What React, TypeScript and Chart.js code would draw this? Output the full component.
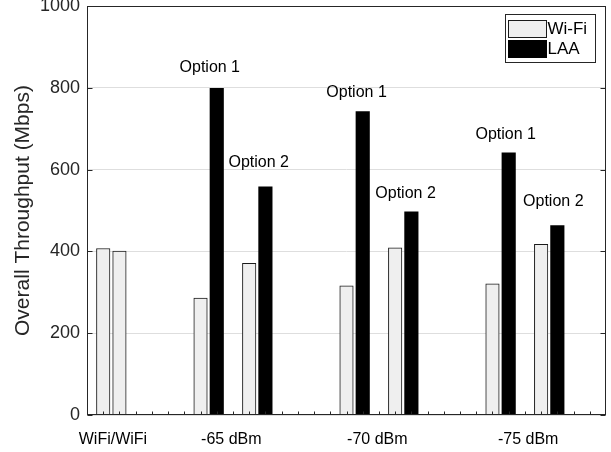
import React, { useEffect, useRef } from 'react';
import { Chart, registerables } from 'chart.js';

Chart.register(...registerables);

// ---- data ----
const wifiX = [1, 2, 7, 10, 16, 19, 25, 28];
const wifiValues = [407, 401, 286, 371, 316, 409, 321, 417];
const laaX = [8, 11, 17, 20, 26, 29];
const laaValues = [799, 558, 742, 497, 641, 463];

const categoryLabels = ['WiFi/WiFi', '-65 dBm', '-70 dBm', '-75 dBm'];
const categoryPositions = [1.6, 8.9, 17.9, 27.2];

const optionLabels = ['Option 1', 'Option 2', 'Option 1', 'Option 2', 'Option 1', 'Option 2'];
const optionX = [7.57, 10.59, 16.62, 19.64, 25.82, 28.75];
const optionY = [849, 617, 789, 541, 685, 522];

const yTickValues = [0, 200, 400, 600, 800, 1000];
const xMin = 0;
const xMax = 32;
const yMin = 0;
const yMax = 1000;

const yTitle = 'Overall Throughput (Mbps)';
const seriesNames = ['Wi-Fi', 'LAA'];

const AXIS_COLOR = '#262626';
const FONT = '"Liberation Sans", Arial, Helvetica, sans-serif';

const overlayPlugin = {
  id: 'overlay',
  afterDraw(chart: any) {
    const { ctx, chartArea, scales } = chart;
    const xs = scales.x;
    const ys = scales.y;
    const L = Math.round(chartArea.left) + 0.5;
    const R = Math.round(chartArea.right) - 0.5;
    const T = Math.round(chartArea.top) + 0.5;
    const B = Math.round(chartArea.bottom) - 0.5;
    ctx.save();

    // axis box
    ctx.strokeStyle = AXIS_COLOR;
    ctx.lineWidth = 1;
    ctx.strokeRect(L, T, R - L, B - T);

    // inward y ticks (left and right)
    ctx.beginPath();
    for (const v of yTickValues) {
      const y = Math.round(ys.getPixelForValue(v)) + 0.5;
      ctx.moveTo(L, y);
      ctx.lineTo(L + 5, y);
      ctx.moveTo(R, y);
      ctx.lineTo(R - 5, y);
    }
    // small inward x ticks at integer positions
    for (let v = Math.ceil(xs.min) + 1; v < xs.max; v++) {
      const x = Math.round(xs.getPixelForValue(v)) + 0.5;
      ctx.moveTo(x, B);
      ctx.lineTo(x, B - 3);
    }
    ctx.stroke();

    // option annotations
    ctx.fillStyle = '#000';
    ctx.font = `16px ${FONT}`;
    ctx.textAlign = 'center';
    ctx.textBaseline = 'middle';
    optionLabels.forEach((t, i) => {
      ctx.fillText(t, xs.getPixelForValue(optionX[i]), ys.getPixelForValue(optionY[i]));
    });

    // category labels
    categoryLabels.forEach((t, i) => {
      ctx.fillText(t, xs.getPixelForValue(categoryPositions[i]), chartArea.bottom + 25);
    });

    // y title
    ctx.save();
    ctx.translate(23, (chartArea.top + chartArea.bottom) / 2);
    ctx.rotate(-Math.PI / 2);
    ctx.fillStyle = AXIS_COLOR;
    ctx.font = `21px ${FONT}`;
    ctx.fillText(yTitle, 0, 0);
    ctx.restore();

    // legend
    const bx = Math.round(chartArea.right) - 100.5;
    const by = Math.round(chartArea.top) + 8.5;
    const bw = 90;
    const bh = 48;
    ctx.fillStyle = '#fff';
    ctx.fillRect(bx, by, bw, bh);
    ctx.strokeStyle = AXIS_COLOR;
    ctx.strokeRect(bx, by, bw, bh);
    ctx.font = `17px ${FONT}`;
    ctx.textAlign = 'left';
    chart.data.datasets.forEach((ds: any, i: number) => {
      const sy = by + 6 + i * 20;
      ctx.fillStyle = ds.backgroundColor;
      ctx.fillRect(bx + 3, sy, 38, 17);
      ctx.strokeStyle = ds.borderColor || '#000';
      ctx.strokeRect(bx + 3, sy, 38, 17);
      ctx.fillStyle = '#000';
      ctx.fillText(ds.label, bx + 42, sy + 9);
    });

    ctx.restore();
  },
};

export default function App() {
  const canvasRef = useRef<HTMLCanvasElement | null>(null);

  useEffect(() => {
    const canvas = canvasRef.current;
    if (!canvas) return;
    const chart = new Chart(canvas, {
      type: 'bar',
      data: {
        datasets: [
          {
            label: seriesNames[0],
            data: wifiX.map((x, i) => ({ x, y: wifiValues[i] })),
            backgroundColor: '#efefef',
            borderColor: '#1a1a1a',
            borderWidth: 1,
            borderSkipped: 'start',
            barThickness: 13.5,
            grouped: false,
          } as any,
          {
            label: seriesNames[1],
            data: laaX.map((x, i) => ({ x, y: laaValues[i] })),
            backgroundColor: '#000000',
            borderColor: '#000000',
            borderWidth: 0,
            barThickness: 13.5,
            grouped: false,
          } as any,
        ],
      },
      options: {
        responsive: false,
        animation: false,
        devicePixelRatio: 1,
        layout: { padding: { left: 7, right: 5, top: 6, bottom: 37 } },
        plugins: {
          legend: { display: false },
          tooltip: { enabled: false },
        },
        scales: {
          x: {
            type: 'linear',
            min: xMin,
            max: xMax,
            offset: false,
            display: false,
          },
          y: {
            type: 'linear',
            min: yMin,
            max: yMax,
            afterBuildTicks: (scale: any) => {
              scale.ticks = yTickValues.map((v) => ({ value: v }));
            },
            afterFit: (scale: any) => {
              scale.width = 80;
              scale.paddingTop = 0;
              scale.paddingBottom = 0;
            },
            border: { display: false },
            grid: {
              color: '#dedede',
              drawTicks: false,
              lineWidth: 1,
            },
            ticks: {
              padding: 7,
              color: AXIS_COLOR,
              font: { family: FONT, size: 18 },
              callback: (v: any) => String(v),
            },
          },
        },
      },
      plugins: [overlayPlugin],
    });
    return () => chart.destroy();
  }, []);

  return (
    <div style={{ position: 'absolute', left: 0, top: 0, width: 611, height: 452, background: '#fff' }}>
      <canvas ref={canvasRef} width={611} height={452} style={{ display: 'block' }} />
    </div>
  );
}
